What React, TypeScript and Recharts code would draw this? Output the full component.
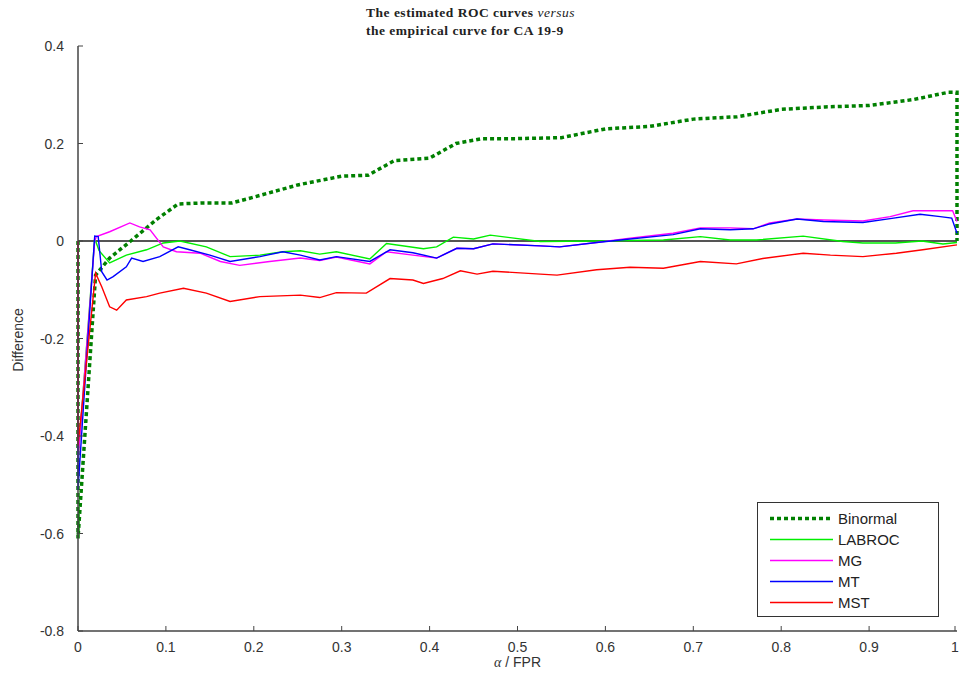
import React from "react";
import {
  LineChart,
  Line,
  XAxis,
  YAxis,
  ReferenceLine,
} from "recharts";

type Pt = { fpr: number; diff: number };
const pts = (rows: number[][]): Pt[] =>
  rows.map(([fpr, diff]) => ({ fpr, diff }));

const xTicks = [0, 0.1, 0.2, 0.3, 0.4, 0.5, 0.6, 0.7, 0.8, 0.9, 1];
const yTicks = [-0.8, -0.6, -0.4, -0.2, 0, 0.2, 0.4];

// difference between each estimated ROC curve and the empirical one
const binormal = pts([
  [0, 0], [0, -0.61], [0.02, -0.07], [0.036, -0.035], [0.06, 0.0], [0.09, 0.045],
  [0.114, 0.076], [0.14, 0.078], [0.175, 0.078], [0.2, 0.09], [0.25, 0.115],
  [0.3, 0.133], [0.33, 0.135], [0.345, 0.15], [0.36, 0.165], [0.4, 0.17],
  [0.42, 0.19], [0.43, 0.2], [0.46, 0.21], [0.5, 0.21], [0.55, 0.212],
  [0.6, 0.23], [0.65, 0.235], [0.7, 0.25], [0.75, 0.255], [0.8, 0.27],
  [0.85, 0.275], [0.9, 0.278], [0.95, 0.29], [0.99, 0.305], [1, 0.305],
  [1, 0.0],
]);

const labroc = pts([
  [0, 0], [0, -0.45], [0.019, 0.005], [0.024, -0.02], [0.036, -0.045],
  [0.055, -0.029], [0.078, -0.018], [0.097, -0.004], [0.116, 0.0],
  [0.146, -0.012], [0.173, -0.032], [0.207, -0.029], [0.233, -0.022],
  [0.253, -0.02], [0.275, -0.027], [0.294, -0.022], [0.332, -0.037],
  [0.351, -0.005], [0.393, -0.016], [0.408, -0.012], [0.427, 0.008],
  [0.45, 0.004], [0.469, 0.012], [0.526, -0.001], [0.59, 0], [0.666, 0.002],
  [0.708, 0.009], [0.742, 0.002], [0.772, 0.002], [0.825, 0.01],
  [0.87, -0.001], [0.893, -0.004], [0.93, -0.004], [0.96, 0],
  [0.984, -0.006], [1, -0.003],
]);

const mg = pts([
  [0, 0], [0, -0.45], [0.019, 0.0], [0.021, 0.009], [0.036, 0.019],
  [0.059, 0.037], [0.07, 0.029], [0.082, 0.023], [0.097, -0.012],
  [0.112, -0.022], [0.139, -0.025], [0.162, -0.042], [0.184, -0.05],
  [0.218, -0.042], [0.253, -0.035], [0.275, -0.04], [0.294, -0.033],
  [0.332, -0.047], [0.351, -0.022], [0.381, -0.029], [0.408, -0.035],
  [0.431, -0.015], [0.45, -0.016], [0.472, -0.006], [0.526, -0.01],
  [0.548, -0.012], [0.59, -0.003], [0.628, 0.006], [0.677, 0.016],
  [0.708, 0.027], [0.742, 0.027], [0.768, 0.025], [0.787, 0.037],
  [0.818, 0.045], [0.848, 0.043], [0.893, 0.041], [0.924, 0.05],
  [0.95, 0.062], [0.995, 0.062], [1, 0.04],
]);

const mt = pts([
  [0, 0], [0, -0.51], [0.019, 0.01], [0.023, 0.009], [0.027, -0.063],
  [0.033, -0.08], [0.04, -0.073], [0.055, -0.053], [0.061, -0.035],
  [0.074, -0.042], [0.093, -0.032], [0.114, -0.012], [0.127, -0.018],
  [0.15, -0.029], [0.173, -0.042], [0.207, -0.032], [0.233, -0.022],
  [0.253, -0.029], [0.275, -0.039], [0.294, -0.032], [0.332, -0.042],
  [0.355, -0.018], [0.381, -0.024], [0.408, -0.035], [0.431, -0.015],
  [0.45, -0.016], [0.472, -0.006], [0.526, -0.01], [0.548, -0.012],
  [0.59, -0.003], [0.628, 0.004], [0.677, 0.013], [0.708, 0.025],
  [0.742, 0.023], [0.768, 0.025], [0.787, 0.035], [0.818, 0.045],
  [0.848, 0.04], [0.893, 0.038], [0.924, 0.046], [0.958, 0.055],
  [0.981, 0.05], [0.994, 0.047], [1, 0.016],
]);

const mst = pts([
  [0, 0], [0, -0.42], [0.02, -0.066], [0.027, -0.094], [0.036, -0.135],
  [0.044, -0.142], [0.055, -0.121], [0.078, -0.114], [0.093, -0.107],
  [0.12, -0.097], [0.146, -0.107], [0.173, -0.124], [0.207, -0.114],
  [0.253, -0.111], [0.275, -0.116], [0.294, -0.106], [0.328, -0.107],
  [0.355, -0.077], [0.381, -0.08], [0.393, -0.087], [0.415, -0.077],
  [0.435, -0.061], [0.454, -0.068], [0.472, -0.062], [0.526, -0.068],
  [0.545, -0.07], [0.59, -0.059], [0.628, -0.054], [0.666, -0.056],
  [0.708, -0.042], [0.749, -0.047], [0.779, -0.036], [0.825, -0.025],
  [0.856, -0.029], [0.893, -0.032], [0.931, -0.025], [0.961, -0.018],
  [1, -0.008],
]);

const series = [
  { name: "Binormal", data: binormal, color: "#008000", width: 3.5, dash: "4 3" },
  { name: "LABROC", data: labroc, color: "#00ee00", width: 1.4, dash: undefined },
  { name: "MG", data: mg, color: "#ff00ff", width: 1.4, dash: undefined },
  { name: "MT", data: mt, color: "#0000ff", width: 1.4, dash: undefined },
  { name: "MST", data: mst, color: "#ff0000", width: 1.4, dash: undefined },
];

const AXIS = "#444";
const FONT = "'Liberation Sans', Arial, sans-serif";

const fmt = (v: number) => String(Math.round(v * 10) / 10);

const XTick = (props: any) => {
  const { x, y, payload } = props;
  return (
    <g>
      <line x1={x} x2={x} y1={y - 8} y2={y - 13} stroke={AXIS} strokeWidth={1} />
      <text x={x} y={y} dy={13} textAnchor="middle" fontSize={14} fill="#333" fontFamily={FONT}>
        {fmt(payload.value)}
      </text>
    </g>
  );
};

const YTick = (props: any) => {
  const { x, y, payload } = props;
  return (
    <g>
      <line x1={x + 14} x2={x + 19} y1={y} y2={y} stroke={AXIS} strokeWidth={1} />
      <text x={x} y={y} dy={5} textAnchor="end" fontSize={14} fill="#333" fontFamily={FONT}>
        {fmt(payload.value)}
      </text>
    </g>
  );
};

const App: React.FC = () => {
  return (
    <div style={{ position: "absolute", left: 0, top: 0, width: 959, height: 675, background: "#fff" }}>
      <div
        style={{
          position: "absolute",
          left: 366,
          top: 4,
          fontFamily: "'Liberation Serif', 'DejaVu Serif', serif",
          fontWeight: "bold",
          fontSize: 13.5,
          letterSpacing: 0.5,
          lineHeight: "18px",
          color: "#222",
        }}
      >
        <div>
          The estimated ROC curves <i style={{ fontWeight: "normal" }}>versus</i>
        </div>
        <div>the empirical curve for CA 19-9</div>
      </div>

      <LineChart
        width={959}
        height={675}
        margin={{ top: 46, right: 2, bottom: 0, left: 0 }}
      >
        <XAxis
          type="number"
          dataKey="fpr"
          domain={[0, 1]}
          ticks={xTicks}
          height={44}
          tickSize={0}
          tickMargin={8}
          tick={<XTick />}
          stroke={AXIS}
          strokeWidth={1.5}
        />
        <YAxis
          type="number"
          dataKey="diff"
          domain={[-0.8, 0.4]}
          ticks={yTicks}
          width={78}
          tickSize={0}
          tickMargin={14}
          tick={<YTick />}
          stroke={AXIS}
          strokeWidth={1.5}
        />
        <ReferenceLine y={0} stroke="#555" strokeWidth={2} />
        {series.map((s) => (
          <Line
            key={s.name}
            data={s.data}
            dataKey="diff"
            name={s.name}
            type="linear"
            stroke={s.color}
            strokeWidth={s.width}
            strokeDasharray={s.dash}
            dot={false}
            activeDot={false}
            isAnimationActive={false}
          />
        ))}
      </LineChart>

      <div
        style={{
          position: "absolute",
          left: 4,
          top: 340,
          transform: "translate(0, -50%) rotate(-90deg)",
          transformOrigin: "center",
          fontFamily: FONT,
          fontSize: 14,
          color: "#333",
          width: 28,
          textAlign: "center",
          whiteSpace: "nowrap",
          display: "flex",
          justifyContent: "center",
        }}
      >
        Difference
      </div>

      <div
        style={{
          position: "absolute",
          left: 0,
          width: 1035,
          top: 654,
          textAlign: "center",
          fontFamily: FONT,
          fontSize: 14,
          color: "#333",
        }}
      >
        <i style={{ fontFamily: "'Liberation Serif', serif" }}>α</i> / FPR
      </div>

      <div
        style={{
          position: "absolute",
          left: 757,
          top: 502,
          width: 180,
          height: 113,
          border: "1px solid #333",
          background: "#fff",
          fontFamily: FONT,
          fontSize: 15,
          color: "#222",
        }}
      >
        {series.map((s, i) => (
          <div
            key={s.name}
            style={{ position: "absolute", left: 0, top: 5 + i * 21, height: 21, display: "flex", alignItems: "center" }}
          >
            <svg width={80} height={21}>
              <line
                x1={12}
                x2={75}
                y1={10.5}
                y2={10.5}
                stroke={s.color}
                strokeWidth={s.dash ? 3.5 : 1.4}
                strokeDasharray={s.dash}
              />
            </svg>
            <span>{s.name}</span>
          </div>
        ))}
      </div>
    </div>
  );
};

export default App;
